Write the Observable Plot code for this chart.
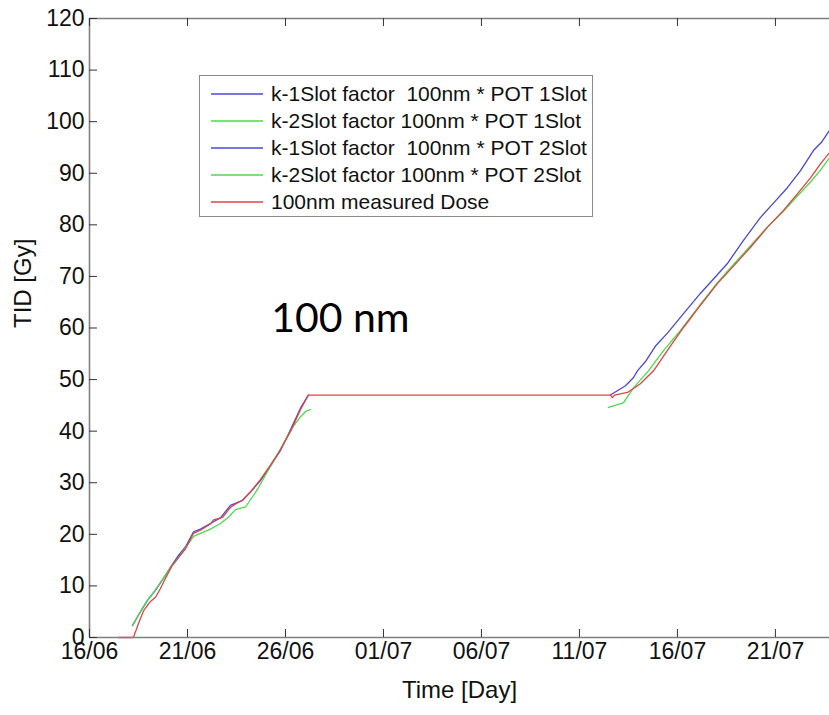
<!DOCTYPE html>
<html>
<head>
<meta charset="utf-8">
<script src="https://cdn.jsdelivr.net/npm/d3@7"></script>
<script src="https://cdn.jsdelivr.net/npm/@observablehq/plot@0.6"></script>
<style>
  body { margin: 0; background: #fff; }
  #wrap { position: relative; width: 829px; height: 715px; font-family: "Liberation Sans", Arial, sans-serif; }
  #legend { position: absolute; left: 199px; top: 75px; width: 392px; height: 140px; border: 1.5px solid #8a8a8a; background: #fff; }
  .row { position: absolute; left: 0; height: 27px; display: flex; align-items: center; font-size: 21px; white-space: pre; color: #111; }
  .sw { display: block; width: 52px; height: 4px; margin-left: 11px; margin-right: 8px; }
</style>
</head>
<body>
<div id="wrap"></div>
<script>
// ---- data (days counted from 16/06, values in Gy) ----
const startDate = "2012-06-16";

const k1p1Days   = [2.19, 2.60, 2.96, 3.37, 3.78, 4.13, 4.54, 4.90, 5.31, 5.66, 6.17, 6.68, 7.19, 7.81, 8.21, 8.72, 9.23, 9.74, 10.26, 10.77, 11.17];
const k1p1Values = [2.3, 5.0, 7.2, 9.2, 11.5, 13.6, 15.9, 17.6, 20.5, 21.0, 22.1, 23.2, 25.6, 26.6, 28.2, 30.4, 33.2, 36.2, 40.3, 44.5, 47.0];

const k2p1Days   = [2.19, 2.60, 2.96, 3.37, 3.78, 4.13, 4.54, 4.90, 5.31, 5.66, 6.17, 6.68, 7.09, 7.45, 7.96, 8.57, 8.98, 9.49, 10.00, 10.41, 10.77, 11.02, 11.28];
const k2p1Values = [2.3, 5.0, 7.2, 9.3, 11.5, 13.5, 15.5, 17.4, 19.6, 20.2, 21.0, 22.1, 23.3, 24.8, 25.3, 28.7, 31.5, 34.8, 38.3, 41.0, 42.8, 43.8, 44.2];

const k1p2Days   = [26.58, 27.35, 27.76, 27.96, 28.37, 28.88, 29.49, 30.31, 31.17, 31.84, 32.55, 33.37, 34.23, 34.90, 35.61, 36.28, 36.94, 37.35, 37.76];
const k1p2Values = [47.0, 48.8, 50.4, 51.7, 53.5, 56.5, 59.0, 62.8, 66.7, 69.5, 72.5, 77.0, 81.4, 84.2, 87.2, 90.5, 94.4, 96.0, 98.3];

const k2p2Days   = [26.48, 27.24, 27.76, 28.52, 29.29, 30.15, 31.17, 32.04, 32.86, 33.72, 34.59, 35.41, 36.12, 36.79, 37.30, 37.76];
const k2p2Values = [44.6, 45.5, 48.4, 51.7, 55.6, 59.5, 64.6, 68.8, 72.3, 75.9, 79.6, 82.6, 85.6, 88.3, 90.6, 93.0];

const measDays   = [1.48, 2.24, 2.50, 2.76, 3.11, 3.37, 3.62, 3.88, 4.23, 4.54, 4.90, 5.31, 5.66, 6.17, 6.33, 6.79, 7.19, 7.45, 7.81, 8.21, 8.72, 9.23, 9.74, 10.26, 10.77, 11.17,
                    26.58, 26.68, 26.79, 27.45, 28.11, 28.78, 29.64, 30.31, 31.17, 32.04, 32.86, 33.72, 34.59, 35.41, 36.12, 36.79, 37.30, 37.76];
const measValues = [0, 0, 2.7, 5.2, 7.0, 7.8, 9.5, 11.5, 14.0, 15.5, 17.2, 20.2, 20.8, 22.0, 22.8, 23.3, 25.2, 25.9, 26.6, 28.2, 30.6, 33.4, 36.4, 40.0, 44.2, 47.0,
                    47.0, 46.5, 47.0, 47.5, 49.2, 51.7, 56.5, 60.1, 64.4, 68.6, 72.0, 75.6, 79.5, 82.8, 86.0, 89.1, 91.8, 94.0];

const seriesNames = [
  "k-1Slot factor  100nm * POT 1Slot",
  "k-2Slot factor 100nm * POT 1Slot",
  "k-1Slot factor  100nm * POT 2Slot",
  "k-2Slot factor 100nm * POT 2Slot",
  "100nm measured Dose"
];
const seriesColors = ["#4848d8", "#48dc48", "#4848d8", "#48dc48", "#e04444"];

const xTickDays = [0, 5, 10, 15, 20, 25, 30, 35];
const yTicks = [0, 10, 20, 30, 40, 50, 60, 70, 80, 90, 100, 110, 120];
const xEndDay = 37.76;
const annotationText = ["100 nm"];
const annotationDay = [12.8];
const annotationValue = [61.8];

// ---- build ----
const base = new Date(startDate + "T00:00:00Z").getTime();
const toDate = d => new Date(base + d * 864e5);

const allSeries = [
  [k1p1Days, k1p1Values], [k2p1Days, k2p1Values],
  [k1p2Days, k1p2Values], [k2p2Days, k2p2Values],
  [measDays, measValues]
].map(([ds, vs], i) => ({
  name: seriesNames[i], color: seriesColors[i],
  rows: ds.map((d, j) => ({t: toDate(d), v: vs[j]}))
}));

const W = 829, H = 715;
const mL = 89, mR = 0, mT = 18, mB = 78;
const plotW = W - mL - mR, plotH = H - mT - mB;
const xTicks = xTickDays.map(toDate);
const xDomain = [toDate(0), toDate(xEndDay)];
const fmt = d3.utcFormat("%d/%m");
const axisColor = "#7f7f7f";
const font = "Liberation Sans, Arial, sans-serif";

const chart = Plot.plot({
  width: W, height: H,
  marginLeft: mL, marginRight: mR, marginTop: mT, marginBottom: mB,
  style: {fontFamily: font, fontSize: "23px", background: "#fff", color: "#111", overflow: "visible"},
  x: {type: "utc", domain: xDomain},
  y: {domain: [0, 120]},
  marks: [
    ...allSeries.map(s => Plot.line(s.rows, {x: "t", y: "v", stroke: s.color, strokeWidth: 1.3})),
    // frame (top, bottom, left)
    Plot.ruleY([0, 120], {stroke: axisColor, strokeWidth: 1.6}),
    Plot.ruleX([xDomain[0]], {stroke: axisColor, strokeWidth: 1.6}),
    // inward ticks
    Plot.ruleX(xTicks, {stroke: "#333", strokeWidth: 1, insetTop: plotH - 8}),
    Plot.ruleX(xTicks, {stroke: "#333", strokeWidth: 1, insetBottom: plotH - 8}),
    Plot.ruleY(yTicks, {stroke: "#333", strokeWidth: 1, insetRight: plotW - 8}),
    // tick labels
    Plot.axisX(xTicks, {tickSize: 0, tickPadding: 5, tickFormat: fmt, fontSize: 23, label: null}),
    Plot.axisY(yTicks, {tickSize: 0, tickPadding: 5, fontSize: 23, label: null}),
    // axis titles
    Plot.text(["Time [Day]"], {frameAnchor: "bottom", dy: 60, fontSize: 24, fill: "#111"}),
    Plot.text(["TID [Gy]"], {frameAnchor: "left", dx: -66, rotate: -90, fontSize: 24, fill: "#111"}),
    // annotation
    Plot.text(annotationText, {x: annotationDay.map(toDate), y: annotationValue, text: d => d, fontSize: 41, fontFamily: "Lato", fill: "#000"})
  ]
});

const wrap = document.getElementById("wrap");
wrap.appendChild(chart);

// legend
const svgNS = "http://www.w3.org/2000/svg";
const legend = document.createElement("div");
legend.id = "legend";
seriesNames.forEach((name, i) => {
  const row = document.createElement("div");
  row.className = "row";
  row.style.top = (4 + i * 27) + "px";
  const sw = document.createElementNS(svgNS, "svg");
  sw.setAttribute("class", "sw");
  sw.setAttribute("width", "52");
  sw.setAttribute("height", "4");
  const ln = document.createElementNS(svgNS, "line");
  ln.setAttribute("x1", "0"); ln.setAttribute("x2", "52");
  ln.setAttribute("y1", "2"); ln.setAttribute("y2", "2");
  ln.setAttribute("stroke", seriesColors[i]);
  ln.setAttribute("stroke-width", "1.4");
  sw.appendChild(ln);
  const label = document.createElement("span");
  label.textContent = name;
  row.appendChild(sw);
  row.appendChild(label);
  legend.appendChild(row);
});
wrap.appendChild(legend);
</script>
</body>
</html>
